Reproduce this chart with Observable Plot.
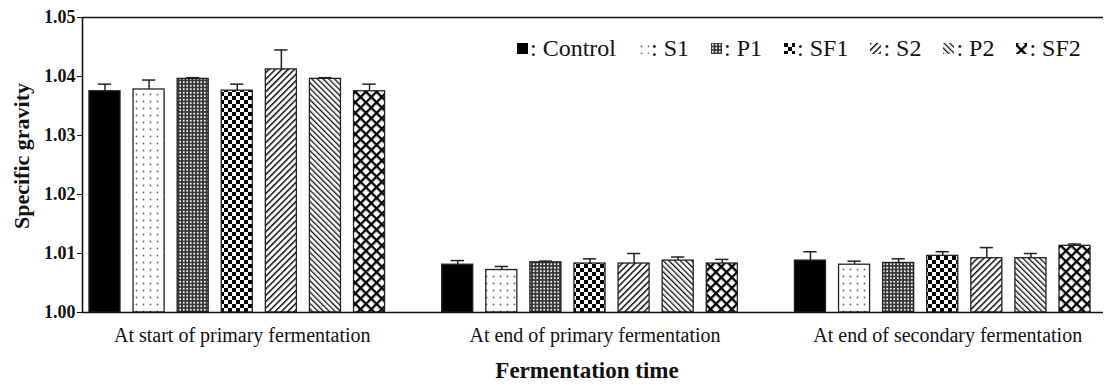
<!DOCTYPE html>
<html><head><meta charset="utf-8">
<script src="https://cdn.jsdelivr.net/npm/d3@7"></script>
<script src="https://cdn.jsdelivr.net/npm/@observablehq/plot@0.6"></script>
<style>
body{margin:0;background:#fff;}
#wrap{position:relative;width:1107px;height:385px;font-family:"Liberation Serif","Times New Roman",serif;}
#wrap svg text{font-family:"Liberation Serif","Times New Roman",serif !important;}
#legend{position:absolute;top:34px;left:517px;display:flex;align-items:center;font-size:24px;line-height:28px;color:#111;white-space:nowrap;}
.item{display:flex;align-items:center;margin-right:22px;}
.item:last-child{margin-right:0;}
.item svg{width:11px;height:11px;margin-right:2px;}
[aria-label^="y-axis"] text{font-weight:bold;font-size:18px;}
</style></head><body>
<svg width="0" height="0" style="position:absolute">
<defs>
<pattern id="pS1" width="7" height="7" patternUnits="userSpaceOnUse"><rect width="7" height="7" fill="#fff"/><circle cx="3.5" cy="3.5" r="0.9" fill="#666"/></pattern>
<pattern id="pP1" width="3.5" height="3.5" patternUnits="userSpaceOnUse"><rect width="3.5" height="3.5" fill="#333"/><circle cx="1.75" cy="1.75" r="1" fill="#fff"/></pattern>
<pattern id="pSF1" width="8" height="8" patternUnits="userSpaceOnUse"><rect width="8" height="8" fill="#fff"/><rect width="4" height="4" fill="#000"/><rect x="4" y="4" width="4" height="4" fill="#000"/></pattern>
<pattern id="pS2" width="4.5" height="4.5" patternUnits="userSpaceOnUse" patternTransform="rotate(45)"><rect width="4.5" height="4.5" fill="#fff"/><rect width="1.5" height="4.5" fill="#111"/></pattern>
<pattern id="pP2" width="4" height="4" patternUnits="userSpaceOnUse" patternTransform="rotate(-45)"><rect width="4" height="4" fill="#fff"/><rect width="1.3" height="4" fill="#111"/></pattern>
<pattern id="pSF2" width="7.5" height="7.5" patternUnits="userSpaceOnUse" patternTransform="rotate(45)"><rect width="7.5" height="7.5" fill="#fff"/><rect width="2.3" height="7.5" fill="#000"/><rect width="7.5" height="2.3" fill="#000"/></pattern>
</defs></svg>
<div id="wrap"><div id="legend"></div></div>
<script>
// ---- data ----
const groups = ["At start of primary fermentation", "At end of primary fermentation", "At end of secondary fermentation"];
const series = ["Control", "S1", "P1", "SF1", "S2", "P2", "SF2"];
const startPrimary = [1.0375, 1.0378, 1.0396, 1.0376, 1.0412, 1.0396, 1.0375];
const startPrimaryErr = [0.0012, 0.0016, 0.0002, 0.0011, 0.0033, 0.0002, 0.0012];
const endPrimary = [1.0081, 1.0072, 1.0085, 1.0083, 1.0083, 1.0088, 1.0083];
const endPrimaryErr = [0.0007, 0.0006, 0.0002, 0.0008, 0.0017, 0.0006, 0.0007];
const endSecondary = [1.0088, 1.0081, 1.0084, 1.0096, 1.0092, 1.0092, 1.0113];
const endSecondaryErr = [0.0015, 0.0006, 0.0007, 0.0007, 0.0018, 0.0008, 0.0003];
const yTicks = [1.00, 1.01, 1.02, 1.03, 1.04, 1.05];
const patterns = ["#000", "url(#pS1)", "url(#pP1)", "url(#pSF1)", "url(#pS2)", "url(#pP2)", "url(#pSF2)"];

// ---- table ----
const values = [startPrimary, endPrimary, endSecondary];
const errs = [startPrimaryErr, endPrimaryErr, endSecondaryErr];
const slot = series.length + 1; // one empty slot between groups
const data = [];
groups.forEach((g, gi) => series.forEach((s, si) => data.push({
  group: g, series: s, pos: gi * slot + si, value: values[gi][si], err: errs[gi][si], fill: patterns[si]
})));
const halfBar = 0.352, halfCap = 0.15;
const y0 = yTicks[0], yTop = yTicks[yTicks.length - 1];
const xMin = -0.51, xMax = (groups.length - 1) * slot + series.length - 1 + 0.646;
const serif = '"Liberation Serif","Times New Roman",serif';

const plot = Plot.plot({
  width: 1107, height: 385,
  marginLeft: 82, marginRight: 4, marginTop: 17, marginBottom: 73,
  style: {fontFamily: serif, fontSize: "18px", color: "#111", background: "#fff"},
  x: {domain: [xMin, xMax], axis: null},
  y: {domain: [y0, yTop], ticks: yTicks, tickFormat: d => d.toFixed(2), tickSize: 5, tickPadding: 2, label: null},
  color: {type: "identity"},
  marks: [
    Plot.ruleX(data, {x: "pos", y1: "value", y2: d => d.value + d.err, stroke: "#222", strokeWidth: 1.5}),
    Plot.ruleY(data, {y: d => d.value + d.err, x1: d => d.pos - halfCap, x2: d => d.pos + halfCap, stroke: "#222", strokeWidth: 1.5}),
    Plot.rectY(data, {x1: d => d.pos - halfBar, x2: d => d.pos + halfBar, y1: () => y0, y2: "value", fill: "fill", stroke: "#222", strokeWidth: 1.3}),
    Plot.ruleY([y0, yTop], {stroke: "#111", strokeWidth: 1.6}),
    Plot.ruleX([xMin], {stroke: "#111", strokeWidth: 1.6}),
    Plot.text(groups, {x: (d, i) => i * slot + (series.length - 1) / 2, y: () => y0, dy: 15, dx: 5, lineAnchor: "top", fontSize: 20, fill: "#111"}),
    Plot.text(["Specific gravity"], {frameAnchor: "left", textAnchor: "middle", dx: -61, dy: -9, rotate: -90, fontSize: 22, fontWeight: "bold", fill: "#111"}),
    Plot.text(["Fermentation time"], {frameAnchor: "bottom", textAnchor: "middle", dy: 65, dx: -6, fontSize: 23, fontWeight: "bold", fill: "#111"})
  ]
});
const wrap = document.getElementById("wrap");
wrap.insertBefore(plot, wrap.firstChild);

const legend = document.getElementById("legend");
series.forEach((s, i) => {
  const item = document.createElement("div");
  item.className = "item";
  item.innerHTML = `<svg viewBox="0 0 11 11"><rect width="11" height="11" fill="${patterns[i]}"/></svg><span>: ${s}</span>`;
  legend.appendChild(item);
});
</script>
</body></html>
